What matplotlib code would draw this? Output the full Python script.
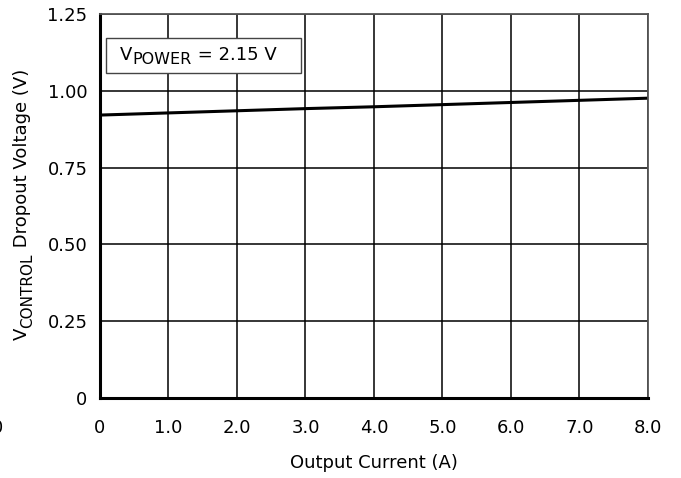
import matplotlib
matplotlib.use("Agg")
import matplotlib.pyplot as plt
from matplotlib.patches import Rectangle

plt.rcParams['font.family'] = ['DejaVu Sans']

# data
current = [0, 1, 2, 3, 4, 5, 6, 7, 8]
dropout = [0.921, 0.928, 0.935, 0.942, 0.948, 0.955, 0.962, 0.969, 0.976]
xticks = [0, 1, 2, 3, 4, 5, 6, 7, 8]
xlabels = ['0', '1.0', '2.0', '3.0', '4.0', '5.0', '6.0', '7.0', '8.0']
yticks = [0, 0.25, 0.5, 0.75, 1.0, 1.25]
ylabels = ['0', '0.25', '0.50', '0.75', '1.00', '1.25']

fs = 13
fs_sub = 11

fig = plt.figure(figsize=(6.81, 4.78), dpi=100)
ax = fig.add_axes([0.1468, 0.1674, 0.8047, 0.8033])

ax.plot(current, dropout, color='black', lw=2.2)

ax.set_xlim(0, 8)
ax.set_ylim(0, 1.25)
ax.set_xticks(xticks)
ax.set_xticklabels(xlabels, fontsize=fs)
ax.set_yticks(yticks)
ax.set_yticklabels(ylabels, fontsize=fs)
ax.tick_params(length=0)
ax.tick_params(axis='x', pad=15)
ax.tick_params(axis='y', pad=9)
ax.grid(True, color='black', lw=1.1)
ax.set_axisbelow(True)

for s in ['left', 'bottom']:
    ax.spines[s].set_linewidth(2.2)
for s in ['top', 'right']:
    ax.spines[s].set_linewidth(1.3)
    ax.spines[s].set_color('#555555')

ax.set_xlabel('Output Current (A)', fontsize=fs, va='center')
ax.xaxis.set_label_coords(0.5, -0.17)

# y label: V + subscript CONTROL + rest, chained pieces (rotated)
v1 = fig.text(0.0455, 0.2887, 'V', fontsize=fs, rotation=90, ha='right', va='bottom')
v2 = ax.annotate('CONTROL', xy=(1, 1), xycoords=v1, xytext=(3.2, 0), textcoords='offset points',
                 fontsize=fs_sub, rotation=90, ha='right', va='bottom', annotation_clip=False)
ax.annotate(' Dropout Voltage (V)', xy=(1, 1), xycoords=(v1, v2), fontsize=fs,
            rotation=90, ha='right', va='bottom', annotation_clip=False)

# boxed V_POWER note
ax.add_patch(Rectangle((0.011, 0.846), 0.356, 0.0915, transform=ax.transAxes,
                       fc='white', ec='#444444', lw=1, zorder=5))
p1 = fig.text(0.1762, 0.8745, 'V', fontsize=fs, va='baseline', ha='left')
p2 = ax.annotate('POWER', xy=(1, 0), xycoords=p1, fontsize=fs_sub + 0.5, va='baseline', ha='left',
                 annotation_clip=False, zorder=6)
ax.annotate(' = 2.15 V', xy=(1, 0), xycoords=(p2, p1), fontsize=fs, va='bottom', ha='left',
            annotation_clip=False, zorder=6)

# stray "0" cut off at the left edge of the source
fig.text(-0.004, 0.105, '0', fontsize=fs, ha='center', va='center')

fig.savefig('out.png', dpi=100)
